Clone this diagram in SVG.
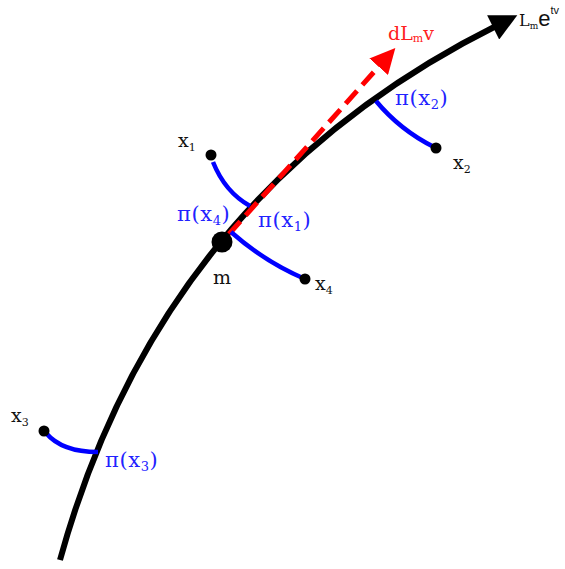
<svg xmlns="http://www.w3.org/2000/svg" width="565" height="569" viewBox="0 0 565 569">
<defs>
<style>
.lbl{font-family:"DejaVu Serif","Liberation Serif",serif;font-size:19px;fill:#111}
.sub{font-size:11px}
.blue{fill:#2222ff;font-size:21px;letter-spacing:0.6px}
.blue .sub{font-size:13px}
.red{fill:#ff2020}
.proj{fill:none;stroke:#0000ff;stroke-width:4.5;stroke-linecap:butt}
.pt{fill:#000}
</style>
<marker id="ablack" viewBox="0 0 10 10" refX="2" refY="5" markerWidth="5" markerHeight="4.5" markerUnits="strokeWidth" orient="auto">
<path d="M0,0 L10,5 L0,10 z" fill="#000"/>
</marker>
<marker id="ared" viewBox="0 0 10 10" refX="2" refY="5" markerWidth="5" markerHeight="5" markerUnits="strokeWidth" orient="auto">
<path d="M0,0 L10,5 L0,10 z" fill="#ff0000"/>
</marker>
</defs>
<g id="connectors">
<path id="curve" d="M60,560 Q161,193 498,25" fill="none" stroke="#000" stroke-width="6" marker-end="url(#ablack)"/>
<line id="tangent" x1="229" y1="234" x2="382" y2="63" stroke="#ff0000" stroke-width="5" stroke-dasharray="17,8" marker-end="url(#ared)"/>
<path id="proj1" class="proj" d="M213,162 Q225,192 250,206"/>
<path id="proj2" class="proj" d="M376,101 Q400,130 434,147"/>
<path id="proj3" class="proj" d="M46,433 Q62,452 98,452"/>
<path id="proj4" class="proj" d="M231,232 Q265,262 305,279"/>
</g>
<g id="node-m">
<circle cx="222" cy="242" r="10.5" class="pt"/>
<text x="213" y="284" class="lbl">m</text>
</g>
<g id="node-x1">
<circle cx="211" cy="155" r="5.5" class="pt"/>
<text x="178" y="147" class="lbl">x<tspan class="sub" dy="4">1</tspan></text>
</g>
<g id="node-x2">
<circle cx="436" cy="148" r="5.5" class="pt"/>
<text x="453" y="169" class="lbl">x<tspan class="sub" dy="4">2</tspan></text>
</g>
<g id="node-x3">
<circle cx="44" cy="431" r="5.5" class="pt"/>
<text x="11" y="422" class="lbl">x<tspan class="sub" dy="4">3</tspan></text>
</g>
<g id="node-x4">
<circle cx="305" cy="279" r="5.5" class="pt"/>
<text x="315" y="290" class="lbl">x<tspan class="sub" dy="4">4</tspan></text>
</g>
<g id="labels">
<text x="395" y="105" class="lbl blue">π(x<tspan class="sub" dy="4">2</tspan><tspan dy="-4">)</tspan></text>
<text x="258" y="227" class="lbl blue">π(x<tspan class="sub" dy="4">1</tspan><tspan dy="-4">)</tspan></text>
<text x="177" y="221" class="lbl blue">π(x<tspan class="sub" dy="4">4</tspan><tspan dy="-4">)</tspan></text>
<text x="105" y="467" class="lbl blue">π(x<tspan class="sub" dy="4">3</tspan><tspan dy="-4">)</tspan></text>
<text x="388" y="40" class="lbl red" font-size="16">dL<tspan class="sub" dy="2" font-size="10">m</tspan><tspan dy="-2">v</tspan></text>
<text x="519" y="26" class="lbl" style="font-size:16px">L<tspan class="sub" dy="3" style="font-size:9px">m</tspan><tspan dy="-3" font-size="22" style="font-family:'Liberation Sans',Arial,sans-serif">e</tspan><tspan class="sub" dy="-12" font-size="11" style="font-family:'Liberation Sans',Arial,sans-serif">tv</tspan></text>
</g>
</svg>
